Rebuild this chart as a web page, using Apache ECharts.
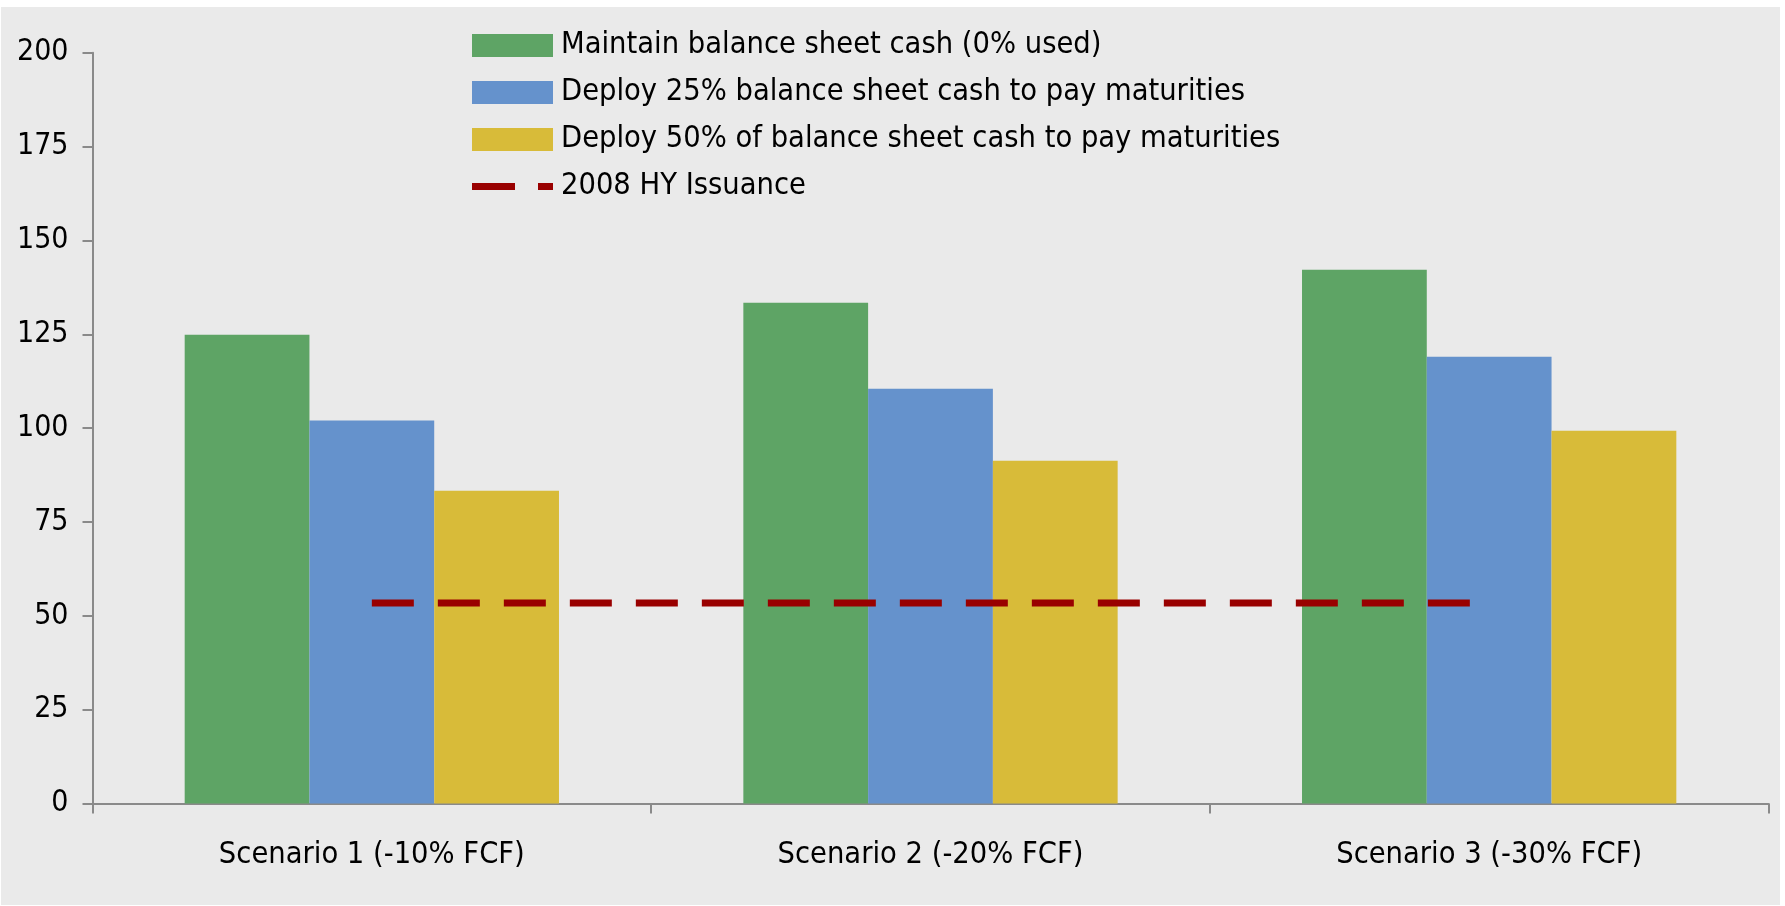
<!DOCTYPE html>
<html>
<head>
<meta charset="utf-8">
<script src="https://cdn.jsdelivr.net/npm/echarts@6/dist/echarts.min.js"></script>
<style>
html,body{margin:0;padding:0;background:#ffffff;}
#chart{width:1785px;height:906px;}
</style>
</head>
<body>
<div id="chart"></div>
<script>
const categories = ['Scenario 1 (-10% FCF)', 'Scenario 2 (-20% FCF)', 'Scenario 3 (-30% FCF)'];
const maintainCash = [124.9, 133.4, 142.2];
const deploy25 = [102.0, 110.5, 119.0];
const deploy50 = [83.3, 91.3, 99.3];
const hyIssuance2008 = [53.4, 53.4, 53.4];
const yTicks = [0, 25, 50, 75, 100, 125, 150, 175, 200];

const FONT = '"DejaVu Sans Condensed", "DejaVu Sans", sans-serif';
const chart = echarts.init(document.getElementById('chart'), null, {renderer: 'canvas'});
chart.setOption({
  backgroundColor: 'transparent',
  animation: false,
  graphic: [{
    type: 'rect', z: -10, silent: true,
    shape: {x: 1, y: 7, width: 1779, height: 898},
    style: {fill: '#EAEAEA'}
  }],
  textStyle: {fontFamily: FONT},
  legend: {
    orient: 'vertical',
    left: 472,
    top: 30,
    itemWidth: 81,
    itemHeight: 23,
    itemGap: 16,
    padding: 0,
    symbolKeepAspect: true,
    textStyle: {fontFamily: FONT, fontSize: 30.5, color: '#000', lineHeight: 23, padding: [0, 0, 0, 3]},
    data: [
      {name: 'Maintain balance sheet cash (0% used)', icon: 'rect'},
      {name: 'Deploy 25% balance sheet cash to pay maturities', icon: 'rect'},
      {name: 'Deploy 50% of balance sheet cash to pay maturities', icon: 'rect'},
      {name: '2008 HY Issuance', icon: 'path://M0,0 H43 V7 H0 Z M66,0 H81 V7 H66 Z'}
    ]
  },
  grid: {left: 92.5, right: 16.5, top: 52.7, bottom: 102.5, containLabel: false},
  xAxis: {
    type: 'category',
    data: categories,
    boundaryGap: true,
    axisLine: {lineStyle: {color: '#8A8A8A', width: 2}},
    axisTick: {show: true, length: 10, lineStyle: {color: '#8A8A8A', width: 2}},
    axisLabel: {fontFamily: FONT, fontSize: 30.5, color: '#000', margin: 36}
  },
  yAxis: {
    type: 'value',
    min: yTicks[0],
    max: yTicks[yTicks.length - 1],
    interval: 25,
    splitLine: {show: false},
    axisLine: {show: true, lineStyle: {color: '#8A8A8A', width: 2}},
    axisTick: {show: true, length: 10, lineStyle: {color: '#8A8A8A', width: 2}},
    axisLabel: {fontFamily: FONT, fontSize: 30, color: '#000', margin: 24}
  },
  series: [
    {name: 'Maintain balance sheet cash (0% used)', type: 'bar', data: maintainCash,
     itemStyle: {color: '#5EA465'}, barGap: '0%', barCategoryGap: '33%'},
    {name: 'Deploy 25% balance sheet cash to pay maturities', type: 'bar', data: deploy25,
     itemStyle: {color: '#6592CC'}, barGap: '0%', barCategoryGap: '33%'},
    {name: 'Deploy 50% of balance sheet cash to pay maturities', type: 'bar', data: deploy50,
     itemStyle: {color: '#D8BB39'}, barGap: '0%', barCategoryGap: '33%'},
    {name: '2008 HY Issuance', type: 'line', data: hyIssuance2008, symbol: 'none',
     itemStyle: {color: '#990000'},
     lineStyle: {color: '#990000', width: 7, type: [42, 24], cap: 'butt'}, z: 5}
  ]
});
</script>
</body>
</html>
